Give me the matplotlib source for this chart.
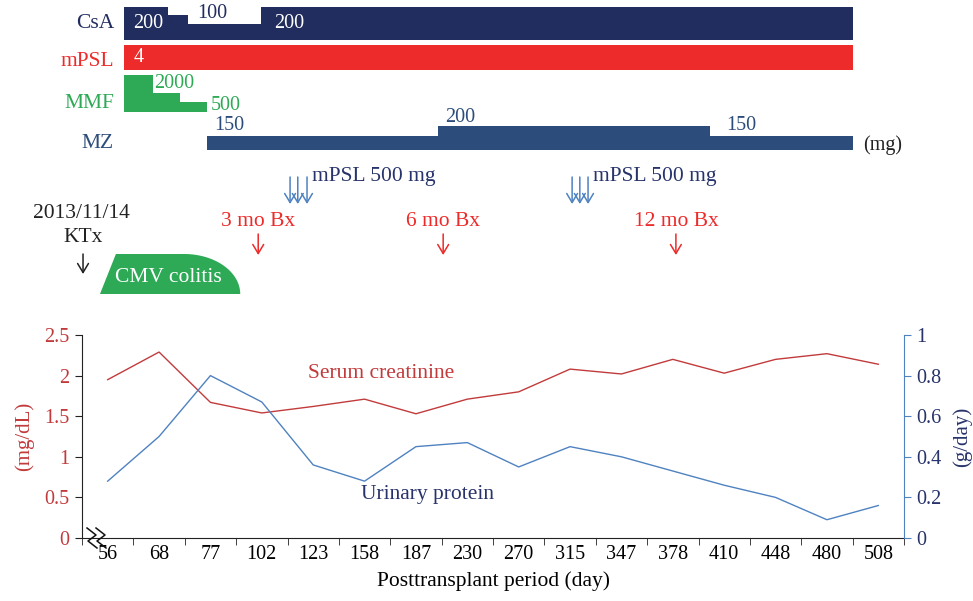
import numpy as np
import matplotlib
matplotlib.use('Agg')
import matplotlib.pyplot as plt
from matplotlib.patches import Polygon

plt.rcParams['font.family'] = ['Liberation Serif', 'DejaVu Serif']
plt.rcParams['font.size'] = 14.5

# ── 下半部分：肌酐 / 尿蛋白 ──────────────────────────
DAYS = ['56', '68', '77', '102', '123', '158', '187', '230',
        '270', '315', '347', '378', '410', '448', '480', '508']
CREATININE = [1.95, 2.29, 1.67, 1.54, 1.62, 1.71, 1.53, 1.71,
              1.80, 2.08, 2.02, 2.20, 2.03, 2.20, 2.27, 2.14]   # mg/dL
PROTEIN = [0.28, 0.50, 0.80, 0.67, 0.36, 0.28, 0.45, 0.47,
           0.35, 0.45, 0.40, 0.33, 0.26, 0.20, 0.09, 0.16]      # g/day

# ── 上半部分：用药时间轴（x 用类别序号坐标）─────────────
CSA = [(0.32, 1.17, 200), (1.17, 1.56, 150), (1.56, 2.98, 100), (2.98, 14.5, 200)]
MPSL = [(0.32, 14.5, 4)]
MMF = [(0.32, 0.88, 2000), (0.88, 1.41, 1000), (1.41, 1.93, 500)]
MZ = [(1.93, 6.43, 150), (6.43, 11.72, 200), (11.72, 14.5, 150)]
PULSE_1 = [3.55, 3.70, 3.88]
PULSE_2 = [9.04, 9.19, 9.35]
BIOPSY = [('3 mo Bx', 2.93), ('6 mo Bx', 6.53), ('12 mo Bx', 11.06)]
KTX_X = -0.48
CMV = (-0.15, 2.58)

C_CSA = '#212d5f'
C_MPSL = '#ec2b2a'
C_MMF = '#2eaa56'
C_MZ = '#2c4c7b'
C_CRE = '#c23b3c'
C_PRO = '#4f82c0'
C_NAVY = '#27336a'

FS = 15.5   # 注释文字字号

W, H = 973, 601
fig = plt.figure(figsize=(W / 100, H / 100), dpi=100)
L, R = 82, 904


def px2u(px):
    return (px - L) / ((R - L) / 16) - 0.5


# 下方折线图
ax = fig.add_axes([L / W, (H - 538) / H, (R - L) / W, 203 / H])
x = np.arange(len(DAYS))
ax.plot(x, CREATININE, color=C_CRE, lw=1.0)
ax.set_xlim(-0.5, 15.5)
ax.set_ylim(0, 2.5)
ax.set_yticks(np.arange(0, 2.51, 0.5))
ax.set_yticklabels(['0', '0.5', '1', '1.5', '2', '2.5'])
ax.set_xticks(x)
ax.set_xticklabels(DAYS)
ax.set_xticks(np.arange(-0.5, 15.6, 1), minor=True)
ax.tick_params(axis='x', which='major', length=0, pad=5)
ax.tick_params(axis='x', which='minor', length=5, direction='out', color='#222')
ax.tick_params(axis='y', length=5, direction='out', colors='#222', labelcolor=C_CRE, pad=4)
for s in ['top', 'right']:
    ax.spines[s].set_visible(False)
ax.spines['left'].set_color('#222')
ax.spines['bottom'].set_color('#222')
ax.set_ylabel('(mg/dL)', color=C_CRE, labelpad=7, fontsize=15)
ax.set_xlabel('Posttransplant period (day)', labelpad=5, fontsize=15.5)

ax2 = ax.twinx()
ax2.plot(x, PROTEIN, color=C_PRO, lw=1.0)
ax2.set_ylim(0, 1)
ax2.set_yticks(np.arange(0, 1.01, 0.2))
ax2.set_yticklabels(['0', '0.2', '0.4', '0.6', '0.8', '1'])
ax2.tick_params(axis='y', length=5, direction='out', colors=C_PRO, labelcolor=C_NAVY, pad=4)
for s in ['top', 'left', 'bottom']:
    ax2.spines[s].set_visible(False)
ax2.spines['right'].set_color(C_PRO)
ax2.set_ylabel('(g/day)', color=C_NAVY, rotation=90, labelpad=8, fontsize=15)

ax.text(5.32, 2.03, 'Serum creatinine', color=C_CRE, ha='center', va='center', fontsize=FS)
ax.text(6.23, 0.53, 'Urinary protein', color=C_NAVY, ha='center', va='center', fontsize=FS)

# 上方时间轴：x 与折线图共用类别坐标，y 用像素坐标
top = fig.add_axes([L / W, 0, (R - L) / W, 1])
top.set_xlim(-0.5, 15.5)
top.set_ylim(H, 0)
top.axis('off')
top.patch.set_alpha(0)


def draw_row(segs, base, h0, k, color):
    for s, e, d in segs:
        top.bar(s, -(h0 + k * d), width=e - s, bottom=base, align='edge',
                color=color, linewidth=0)


draw_row(CSA, 40, 0, 0.165, C_CSA)
draw_row(MPSL, 70, 25, 0, C_MPSL)
draw_row(MMF, 112, 1, 0.018, C_MMF)
draw_row(MZ, 150, -16.3, 0.2, C_MZ)

lx = px2u(114)
for name, y, c in [('CsA', 23, C_CSA), ('mPSL', 61, C_MPSL),
                   ('MMF', 103, C_MMF), ('MZ', 143, C_MZ)]:
    top.text(lx, y, name, ha='right', va='center', color=c, fontsize=FS)

labels = [('200', CSA[0][0] + 0.17, 23, 'white'),
          ('100', CSA[2][0] + 0.19, 14, C_CSA),
          ('200', CSA[3][0] + 0.26, 23, 'white'),
          ('4', MPSL[0][0] + 0.19, 57, 'white'),
          ('2000', MMF[0][1] + 0.03, 83, C_MMF),
          ('500', MMF[2][1] + 0.08, 105, C_MMF),
          ('150', MZ[0][0] + 0.14, 126, C_MZ),
          ('200', MZ[1][0] + 0.14, 117, C_MZ),
          ('150', MZ[2][0] + 0.31, 126, C_MZ)]
for t, xx, yy, c in labels:
    top.text(xx, yy, t, ha='left', va='center', color=c, fontsize=14.5)
top.text(px2u(863), 145, '(mg)', ha='left', va='center', color='#222', fontsize=14.5)


def arrow(xx, y0, y1, color):
    top.annotate('', xy=(xx, y1), xytext=(xx, y0),
                 arrowprops=dict(arrowstyle='->, head_length=0.5, head_width=0.3',
                                 color=color, lw=1.1,
                                 shrinkA=0, shrinkB=0, mutation_scale=13))


for grp in (PULSE_1, PULSE_2):
    for xx in grp:
        arrow(xx, 177, 204, C_PRO)
    top.text(grp[-1] + 0.1, 177, 'mPSL 500 mg',
             ha='left', va='center', color=C_NAVY, fontsize=FS)

for t, xx in BIOPSY:
    top.text(xx, 222, t, ha='center', va='center', color=C_MPSL, fontsize=FS)
    arrow(xx, 234, 255, C_MPSL)

top.text(KTX_X - 0.04, 213, '2013/11/14', ha='center', va='center', color='#222', fontsize=FS)
top.text(KTX_X, 238, 'KTx', ha='center', va='center', color='#222', fontsize=FS)
arrow(KTX_X, 254, 274, '#222')

# CMV colitis 形状：左侧斜边 + 右侧四分之一椭圆
s, e = CMV
slant = 0.31
cstart = s + (e - s) * 0.6
t = np.linspace(0, np.pi / 2, 40)
curve = np.column_stack([cstart + (e - cstart) * np.sin(t), 294 - 40 * np.cos(t)])
pts = np.vstack([[s, 294], [s + slant, 254], curve])
top.add_patch(Polygon(pts, closed=True, color=C_MMF, lw=0))
top.text(px2u(168), 278, 'CMV colitis', ha='center', va='center', color='white', fontsize=FS)

# 坐标轴断裂符号
for dx in (0, 9):
    xs = [px2u(v + dx) for v in (87, 96, 88, 97)]
    top.plot(xs, [528, 535, 541, 548], color='#111', lw=1.1)

fig.savefig('out.png', dpi=100)
